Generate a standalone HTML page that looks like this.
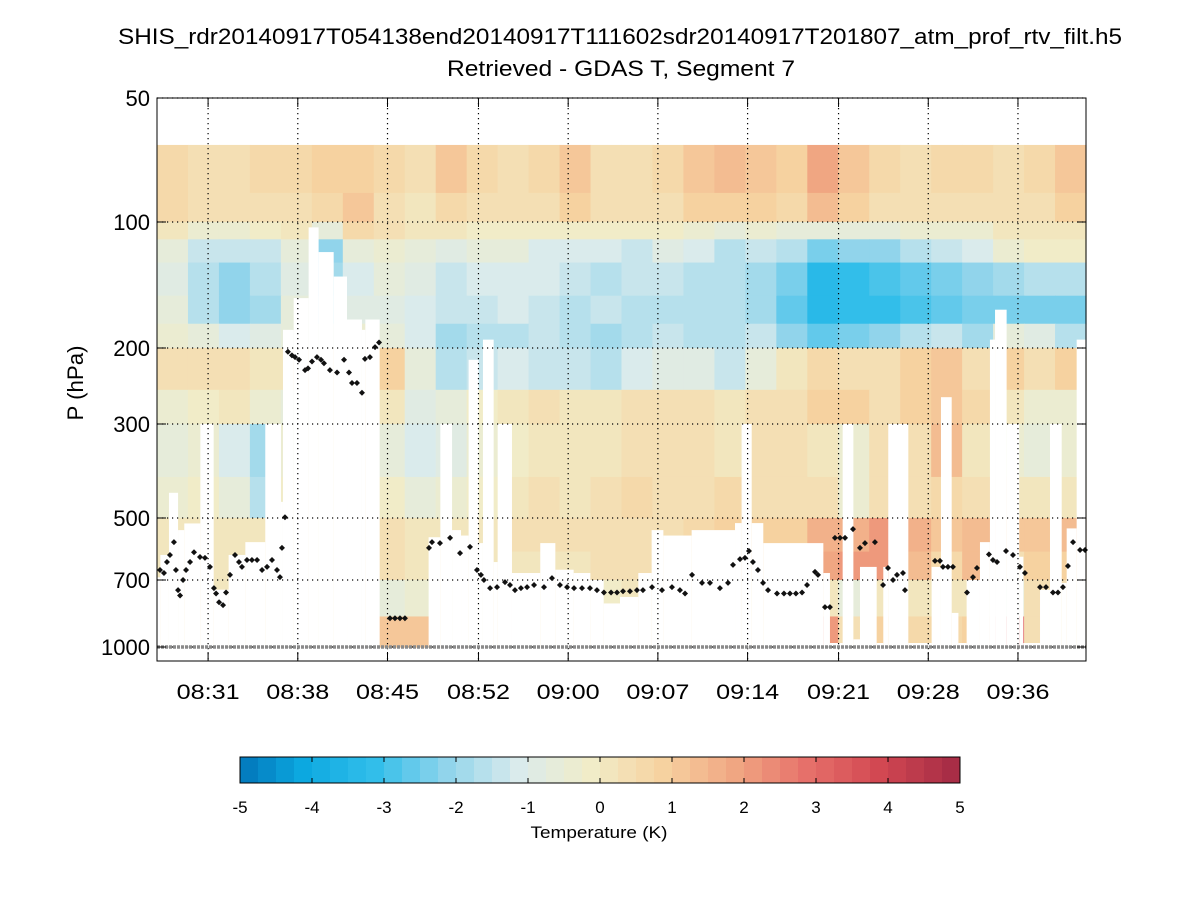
<!DOCTYPE html>
<html><head><meta charset="utf-8"><style>
html,body{margin:0;padding:0;background:#fff;width:1200px;height:900px;overflow:hidden}
svg text{font-family:"Liberation Sans",sans-serif;fill:#000}
</style></head><body>
<svg id="chart" width="1200" height="900" xmlns="http://www.w3.org/2000/svg">
<text x="620" y="44" font-size="22" text-anchor="middle" textLength="1004" lengthAdjust="spacingAndGlyphs">SHIS_rdr20140917T054138end20140917T111602sdr20140917T201807_atm_prof_rtv_filt.h5</text>
<text x="621" y="76" font-size="22" text-anchor="middle" textLength="348" lengthAdjust="spacingAndGlyphs">Retrieved - GDAS T, Segment 7</text>
<text x="83" y="383" font-size="22" text-anchor="middle" transform="rotate(-90 83 383)" textLength="75" lengthAdjust="spacingAndGlyphs">P (hPa)</text>
<g id="heat"></g>
<g id="mask"></g>
<g id="grid"></g>
<g id="dots"></g>
<g id="axes"></g>
<g id="cbar"></g>
<text x="599" y="838" font-size="17" text-anchor="middle" textLength="137" lengthAdjust="spacingAndGlyphs">Temperature (K)</text>
</svg>
<script>
const NS="http://www.w3.org/2000/svg";
// ---- data ----
const xTickLabels=["08:31","08:38","08:45","08:52","09:00","09:07","09:14","09:21","09:28","09:36"];
const xTickMinutes=[4.1,11.3,18.5,25.8,33.0,40.2,47.4,54.7,61.9,69.1];
const yTickLabels=["50","100","200","300","500","700","1000"];
const yTickValues=[50,100,200,300,500,700,1000];
const levelBounds=[65,85,100,110,125,150,175,200,250,300,400,500,600,700,850,1000];
const colCount=30;
const row0=[0.8,0.6,0.5,0.7,0.8,0.9,1.0,0.8,0.5,1.3,0.7,0.5,0.8,1.2,0.6,0.5,0.8,1.2,1.4,1.3,0.9,2.0,1.2,0.7,0.6,0.8,0.7,0.5,0.7,1.2];
const row1=[0.7,0.6,0.4,0.5,0.6,0.8,1.3,0.6,0.3,0.8,0.6,0.4,0.6,0.9,0.5,0.4,0.6,0.9,1.0,1.0,0.7,1.6,1.0,0.5,0.4,0.6,0.6,0.4,0.5,0.9];
const row2=[0.2,-0.2,-0.3,0.0,0.3,-0.6,0.8,0.4,0.2,0.2,0.1,0.0,0.0,0.0,0.0,0.0,0.0,-0.3,-0.5,-0.3,-0.5,-0.6,-0.5,-0.4,-0.3,-0.2,-0.2,0.2,0.2,0.3];
const row3=[-0.6,-1.2,-1.3,-1.2,-0.5,-2.0,-0.6,-0.3,-0.5,-0.7,-0.5,-0.6,-0.9,-1.0,-1.1,-1.2,-0.8,-1.0,-1.4,-1.3,-1.6,-2.2,-2.0,-1.9,-1.6,-1.3,-0.9,-0.3,0.0,0.1];
const row4=[-0.8,-1.5,-2.0,-1.6,-0.8,-1.8,-1.0,-0.6,-0.8,-1.2,-1.0,-1.0,-1.1,-1.3,-1.4,-1.3,-1.2,-1.5,-1.6,-1.8,-2.3,-3.2,-3.0,-2.8,-2.6,-2.3,-2.0,-1.8,-1.6,-1.5];
const row5=[-0.6,-1.4,-1.9,-1.7,-0.5,-1.5,-0.8,-0.8,-1.0,-1.3,-1.2,-1.1,-1.2,-1.5,-1.3,-1.4,-1.4,-1.6,-1.6,-1.8,-2.4,-3.2,-3.0,-3.0,-2.8,-2.4,-2.2,-2.3,-2.2,-2.2];
const row6=[-0.3,-0.6,-0.9,-0.7,-0.4,-0.5,-0.3,-0.5,-0.9,-1.8,-1.6,-1.4,-1.3,-1.6,-1.8,-1.6,-1.2,-1.4,-1.6,-1.3,-2.0,-2.5,-2.2,-2.0,-1.5,-1.2,-1.8,-0.6,-0.8,-1.4];
const row7=[0.4,0.5,0.6,0.3,0.3,0.3,0.3,1.0,-0.6,-1.4,-1.2,-1.0,-1.2,-1.3,-1.6,-1.0,-0.8,-0.8,-1.2,-0.6,0.2,0.8,0.4,0.6,1.1,1.2,0.5,1.0,0.6,1.1];
const row8=[-0.3,0.0,0.2,-0.2,-0.5,0.0,0.0,0.2,-0.8,-0.4,0.0,0.2,0.4,0.2,0.3,0.4,0.6,0.6,0.3,0.6,0.6,1.0,1.0,0.6,1.0,1.3,0.8,0.3,-0.3,-0.3];
const row9=[-0.6,-0.3,-0.9,-1.8,-0.3,0.0,0.0,-0.5,-1.0,-0.7,-0.3,0.0,0.2,0.2,0.3,0.4,0.5,0.4,0.3,0.6,0.4,0.3,-0.2,0.4,0.6,1.4,0.3,-0.3,-0.4,-0.3];
const row10=[-0.2,0.1,-0.6,-1.5,0.0,0.0,0.0,0.1,-0.6,-0.3,0.0,0.2,0.4,0.3,0.5,0.8,0.4,0.6,0.7,0.5,0.5,0.5,-0.3,0.5,0.6,0.8,0.4,0.3,0.3,0.2];
const row11=[0.2,0.3,0.3,0.2,0.0,0.0,0.0,0.4,0.3,0.2,0.2,0.4,0.6,0.6,0.6,0.6,0.6,0.8,1.0,1.0,1.0,1.8,1.8,2.2,1.7,1.3,1.5,1.2,1.3,1.4];
const row12=[0.2,0.3,0.3,0.2,0.0,0.0,0.0,0.4,0.2,0.2,0.2,0.3,0.3,0.3,0.4,0.4,0.4,0.5,1.2,1.0,0.8,2.0,2.2,2.3,1.6,0.8,1.6,0.6,1.0,1.0];
const row13=[0.2,0.2,0.2,0.2,0.0,0.0,0.0,-0.6,-0.3,0.2,0.2,0.2,0.2,0.0,-0.1,0.3,0.3,0.2,0.4,0.6,0.5,0.2,-0.5,0.3,0.3,0.3,0.3,-0.6,0.5,0.5];
const row14=[0.3,0.3,0.3,0.3,0,0,0,1.2,1.3,0.3,0.3,0.3,0.3,0.3,0.3,0.3,0.3,0.3,0.3,0.3,1.0,2.3,0.6,1.0,0.7,0.8,1.0,3.5,0.4,0.4];
const rows=[row0,row1,row2,row3,row4,row5,row6,row7,row8,row9,row10,row11,row12,row13,row14];
// mask segments: start minute and pressure below which there is no data
const maskStart=[0,0.27,0.96,1.69,2.19,3.48,4.55,5.75,7.09,8.69,9.95,10.11,10.97,12.17,12.97,14.18,15.25,16.45,16.72,17.87,21.8,22.74,23.68,24.40,25.01,25.81,26.16,27.02,27.34,28.49,30.76,31.97,33.44,34.78,35.85,37.16,38.63,39.70,40.64,42.91,46.39,46.92,47.73,48.66,53.48,54.01,55.03,55.89,56.42,57.76,58.29,58.69,60.30,62.17,62.92,63.78,64.32,64.98,66.05,66.85,67.26,68.19,69.20,69.53,70.87,71.67,72.61,73.01,73.81];
const maskP=[690,611,436,534,515,300,737,611,570,300,458,181,152,103,118,135,171,181,171,1000,555,300,534,550,213,573,191,635,300,674,573,662,674,700,793,766,674,534,550,534,514,300,514,573,674,979,300,960,652,979,652,300,979,652,260,834,979,700,570,191,162,300,617,979,737,300,711,529,191];
const dotMinutes=[0.24,0.56,0.80,1.04,1.36,1.52,1.69,1.85,2.09,2.33,2.65,2.97,3.45,3.85,4.25,4.57,4.74,4.98,5.30,5.54,5.86,6.26,6.58,6.82,7.22,7.62,8.03,8.43,8.83,9.23,9.63,9.87,10.03,10.27,10.51,10.83,11.08,11.40,11.88,12.12,12.44,12.84,13.16,13.40,13.88,14.45,15.01,15.41,15.65,16.05,16.45,16.69,17.09,17.50,17.82,18.70,19.10,19.50,19.90,21.83,22.07,22.71,23.52,24.32,25.12,25.68,26.00,26.24,26.73,27.29,27.93,28.33,28.73,29.21,29.70,30.26,31.06,31.70,32.34,32.91,33.47,34.11,34.75,35.31,35.87,36.44,36.92,37.40,37.96,38.52,39.00,39.73,40.53,41.33,41.97,42.38,42.94,43.74,44.38,45.18,45.83,46.23,46.79,47.19,47.51,47.83,48.23,48.64,49.04,49.76,50.32,50.80,51.28,51.77,52.17,52.81,53.05,53.61,54.01,54.41,54.82,55.22,55.86,56.42,56.82,57.62,58.27,58.67,59.07,59.39,59.87,60.03,62.44,62.84,63.08,63.48,63.88,65.01,65.49,65.81,66.77,67.09,67.42,68.14,68.70,69.26,69.66,70.87,71.35,71.91,72.31,72.71,73.11,73.52,74.08,74.48];
const dotPressure=[663,674,635,611,570,663,739,760,700,663,635,602,618,621,652,731,752,788,800,748,681,611,635,652,628,628,628,663,652,628,663,689,588,498,204,208,210,213,225,223,215,210,213,217,225,228,213,228,241,241,254,212,210,199,194,858,858,858,858,588,570,573,557,605,585,663,681,700,731,727,708,719,739,731,727,719,727,693,719,727,731,731,731,739,748,748,748,743,743,739,739,727,739,727,739,752,681,711,711,731,711,645,625,621,598,635,663,711,739,752,752,752,752,748,719,670,681,809,809,557,557,557,531,588,573,570,719,656,700,681,674,739,631,631,652,652,652,748,689,656,609,628,635,598,611,652,674,727,727,748,748,727,649,570,595,595];
const cbarTicks=[-5,-4,-3,-2,-1,0,1,2,3,4,5];
// ---- scales ----
const X0=157,X1=1086,Y0=98,Y1=661,minTotal=74.56;
function xScale(m){return X0+m*(X1-X0)/minTotal;}
const yAnchorP=[50,100,200,300,500,700,1000],yAnchorPx=[98,222,348,424,518,580,647];
function yScale(p){
  const lp=Math.log10(p);
  let i=0;while(i<yAnchorP.length-2&&p>yAnchorP[i+1])i++;
  const a=Math.log10(yAnchorP[i]),b=Math.log10(yAnchorP[i+1]);
  return yAnchorPx[i]+(lp-a)/(b-a)*(yAnchorPx[i+1]-yAnchorPx[i]);
}
const cStops=[[-5,0,110,180],[-4,12,168,224],[-3,50,190,234],[-2,145,212,235],[-1,218,235,236],[0,241,236,200],[1,246,210,160],[2,240,166,130],[3,230,112,106],[4,210,72,82],[5,168,45,70]];
function color(v){
  v=Math.max(-5,Math.min(5,v));v=Math.round(v*4)/4;
  for(let i=0;i<cStops.length-1;i++){const a=cStops[i],b=cStops[i+1];
    if(v<=b[0]){const t=(v-a[0])/(b[0]-a[0]);
      return `rgb(${Math.round(a[1]+t*(b[1]-a[1]))},${Math.round(a[2]+t*(b[2]-a[2]))},${Math.round(a[3]+t*(b[3]-a[3]))})`;}}
  return "rgb(168,45,70)";
}
function mk(tag,attrs,parent){const e=document.createElementNS(NS,tag);for(const k in attrs)e.setAttribute(k,attrs[k]);parent.appendChild(e);return e;}
// ---- heatmap ----
const heat=document.getElementById('heat');
const colMin=minTotal/colCount;
rows.forEach((row,r)=>{
  const yt=yScale(levelBounds[r]),yb=yScale(levelBounds[r+1]);
  row.forEach((v,c)=>{
    const xl=xScale(c*colMin),xr=xScale((c+1)*colMin);
    const el=mk('rect',{x:xl.toFixed(2),y:yt.toFixed(2),width:(xr-xl+0.6).toFixed(2),height:(yb-yt+0.6).toFixed(2),fill:color(v)},heat);
    
    
  });
});
// ---- mask ----
const mask=document.getElementById('mask');
maskStart.forEach((m,i)=>{
  const end=i<maskStart.length-1?maskStart[i+1]:minTotal;
  if(maskP[i]>=1000)return;
  const xl=xScale(m),xr=xScale(end),yt=yScale(maskP[i]);
  const el=mk('rect',{x:xl.toFixed(2),y:yt.toFixed(2),width:(xr-xl).toFixed(2),height:(yScale(1000)-yt+1).toFixed(2),fill:'#fff'},mask);
  
  
});
// ---- grid ----
const grid=document.getElementById('grid');
xTickMinutes.forEach(m=>{const x=xScale(m);
  const l=mk('line',{x1:x,x2:x,y1:Y0,y2:Y1,stroke:'#000','stroke-width':1.2,'stroke-dasharray':'1.2 3.8'},grid);
  
  });
yTickValues.forEach(p=>{const y=yScale(p);
  const l=mk('line',{x1:X0,x2:X1,y1:y,y2:y,stroke:'#000','stroke-width':1.2,'stroke-dasharray':'1.2 3.8'},grid);
  
  });
const surf=mk('line',{x1:X0,x2:X1,y1:yScale(1000),y2:yScale(1000),stroke:'#8a8a8a','stroke-width':3.5,'stroke-dasharray':'3 1'},grid);


// ---- dots ----
const dots=document.getElementById('dots');
dotMinutes.forEach((m,i)=>{const x=xScale(m),y=yScale(dotPressure[i]);
  const d=mk('path',{d:`M${x-3} ${y}L${x} ${y-3}L${x+3} ${y}L${x} ${y+3}Z`,fill:'#111'},dots);
  
  });
// ---- axes ----
const axes=document.getElementById('axes');
const box=mk('rect',{x:X0,y:Y0,width:X1-X0,height:Y1-Y0,fill:'none',stroke:'#000','stroke-width':1},axes);


xTickMinutes.forEach((m,i)=>{const x=xScale(m);
  mk('line',{x1:x,x2:x,y1:Y1,y2:Y1-9,stroke:'#000'},axes);
  mk('line',{x1:x,x2:x,y1:Y0,y2:Y0+9,stroke:'#000'},axes);
  const t=mk('text',{x:x,y:699,'font-size':21,'text-anchor':'middle',textLength:63,lengthAdjust:'spacingAndGlyphs'},axes);t.textContent=xTickLabels[i];
  
  });
yTickValues.forEach((p,i)=>{const y=yScale(p);
  mk('line',{x1:X0,x2:X0+9,y1:y,y2:y,stroke:'#000'},axes);
  mk('line',{x1:X1,x2:X1-9,y1:y,y2:y,stroke:'#000'},axes);
  const t=mk('text',{x:150,y:y+8,'font-size':22,'text-anchor':'end'},axes);t.textContent=yTickLabels[i];
  
  });
// ---- colorbar ----
const cb=document.getElementById('cbar');
const CX0=240,CX1=960,CY0=757,CY1=783,steps=40;
for(let i=0;i<steps;i++){const v=-5+(i+0.5)*10/steps;
  const xl=CX0+i*(CX1-CX0)/steps;
  const r=mk('rect',{x:xl,y:CY0,width:(CX1-CX0)/steps+0.5,height:CY1-CY0,fill:color(v)},cb);
  
  }
mk('rect',{x:CX0,y:CY0,width:CX1-CX0,height:CY1-CY0,fill:'none',stroke:'#000'},cb);
cbarTicks.forEach(v=>{const x=CX0+(v+5)/10*(CX1-CX0);
  mk('line',{x1:x,x2:x,y1:CY0,y2:CY0+5,stroke:'#000'},cb);
  mk('line',{x1:x,x2:x,y1:CY1,y2:CY1-5,stroke:'#000'},cb);
  const t=mk('text',{x:x,y:813,'font-size':17,'text-anchor':'middle'},cb);t.textContent=String(v);
  
  });
</script>
</body></html>
